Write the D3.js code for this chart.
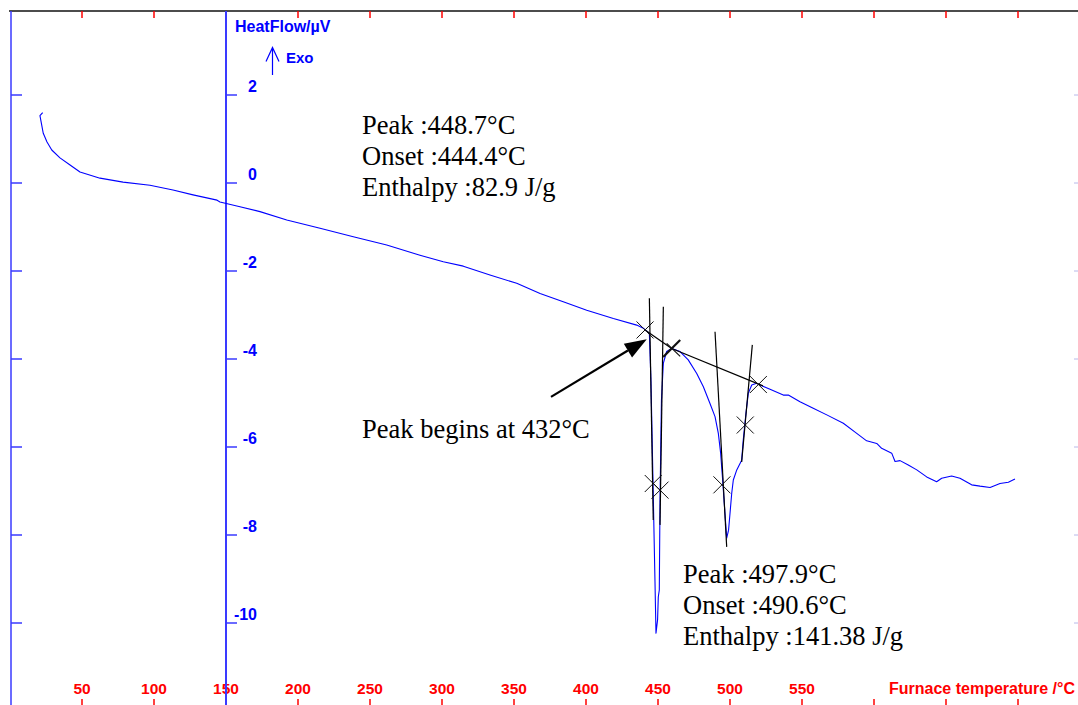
<!DOCTYPE html>
<html>
<head>
<meta charset="utf-8">
<script src="https://cdn.jsdelivr.net/npm/d3@7/dist/d3.min.js"></script>
<style>
  html, body { margin: 0; padding: 0; background: #fff; }
  svg { display: block; }
</style>
</head>
<body>
<svg id="chart" width="1078" height="705"></svg>
<script>
// DSC trace: furnace temperature (°C) vs heat flow (µV)
const temperature = [22.7, 20.8, 23.1, 25.7, 29.0, 34.7, 41.7, 48.6, 62.5, 78.5, 97.2, 113.2, 127.1, 143.8,
  145.8, 159.7, 173.6, 192.2, 215.3, 238.4, 261.6, 284.7, 300.9, 314.8, 333.3, 351.9, 368.1, 384.2,
  400.5, 419.0, 435.2, 439.8, 444.0, 445.1, 446.5, 447.9, 448.6, 449.7, 450.2, 450.9, 451.4, 452.4,
  453.7, 456.0, 459.5, 465.3, 471.0, 476.9, 481.5, 486.1, 489.6, 491.9, 493.5, 494.9, 496.5, 497.7,
  499.0, 500.0, 501.2, 502.3, 504.7, 508.1, 509.2, 511.1, 512.7, 515.1, 518.5, 520.8, 527.8, 537.0,
  540.5, 548.6, 557.8, 567.2, 578.7, 588.0, 594.9, 601.9, 605.3, 612.3, 614.6, 618.1, 623.8, 629.7,
  636.6, 643.5, 647.0, 653.9, 659.7, 667.8, 673.6, 680.6, 687.5, 693.3, 697.9];
const heatFlow = [1.60, 1.53, 1.13, 0.93, 0.75, 0.57, 0.41, 0.25, 0.11, 0.02, -0.05, -0.16, -0.27, -0.39,
  -0.43, -0.54, -0.65, -0.84, -1.03, -1.22, -1.41, -1.64, -1.79, -1.89, -2.09, -2.28, -2.51, -2.70,
  -2.89, -3.08, -3.23, -3.30, -3.42, -4.48, -6.75, -9.05, -10.23, -9.93, -9.41, -9.25, -7.20, -4.93,
  -4.10, -3.83, -3.76, -3.83, -4.02, -4.33, -4.63, -5.01, -5.31, -5.69, -6.14, -6.75, -7.51, -8.07,
  -7.89, -7.51, -7.05, -6.75, -6.52, -6.30, -5.84, -5.23, -4.78, -4.59, -4.55, -4.59, -4.69, -4.82,
  -4.82, -4.97, -5.12, -5.27, -5.46, -5.69, -5.86, -5.92, -6.03, -6.14, -6.33, -6.31, -6.41, -6.52,
  -6.68, -6.79, -6.71, -6.66, -6.71, -6.86, -6.89, -6.92, -6.83, -6.80, -6.73];

// axis ticks
const xTicks = [50, 100, 150, 200, 250, 300, 350, 400, 450, 500, 550, 600, 650, 700];
const xTickLabels = ["50", "100", "150", "200", "250", "300", "350", "400", "450", "500", "550", "", "", ""];
const yTicks = [2, 0, -2, -4, -6, -8, -10];

// tangent / baseline construction lines [T1, v1, T2, v2]
const tangentLines = [
  [444.0, -2.62, 446.7, -7.66],
  [453.7, -2.81, 451.4, -7.77],
  [489.6, -3.38, 497.7, -8.27],
  [515.5, -3.68, 508.1, -6.34],
  [441.0, -3.34, 459.5, -3.76],
  [459.5, -3.76, 522.9, -4.61]
];
// intersection markers [T, v]
const markerT = [441.0, 519.7, 510.6, 446.7, 451.4, 494.4];
const markerV = [-3.34, -4.58, -5.50, -6.83, -6.98, -6.86];
// the heavier marker where the two baselines meet
const jointMarker = [459.5, -3.76];
// arrow pointing at the start of the first peak [T, v]
const arrowFrom = [375.7, -4.86];
const arrowTo = [442.2, -3.55];

// peak results
const peak1Text = ["Peak :448.7°C", "Onset :444.4°C", "Enthalpy :82.9 J/g"];
const peak2Text = ["Peak :497.9°C", "Onset :490.6°C", "Enthalpy :141.38 J/g"];
const arrowText = "Peak begins at 432°C";

const W = 1078, H = 705;
const svg = d3.select("#chart");

const x = d3.scaleLinear().domain([0, 700]).range([10, 1018]);
const y = d3.scaleLinear().domain([-10, 2]).range([623, 95]);

const frameTop = 11, leftX = 11;
const axisX = x(150);
const red = "#ff0000", blue = "#0000ff", axisBlue = "#3a3aff";
const sans = "Liberation Sans, Arial, sans-serif";

// top frame line
svg.append("line").attr("x1", 9).attr("x2", W).attr("y1", frameTop).attr("y2", frameTop)
  .attr("stroke", "#111").attr("stroke-width", 1.5);

// red temperature ticks, top and bottom
const xt = svg.append("g");
xTicks.forEach(t => {
  xt.append("line").attr("x1", x(t)).attr("x2", x(t)).attr("y1", frameTop).attr("y2", frameTop + 7)
    .attr("stroke", red).attr("stroke-width", 1.5);
  xt.append("line").attr("x1", x(t)).attr("x2", x(t)).attr("y1", H - 6).attr("y2", H)
    .attr("stroke", red).attr("stroke-width", 1.5);
});
svg.append("g").selectAll("text").data(xTicks.filter((t, i) => xTickLabels[i] !== ""))
  .join("text")
  .attr("x", d => x(d)).attr("y", 694)
  .attr("text-anchor", "middle")
  .attr("font-family", sans)
  .attr("font-weight", "bold").attr("font-size", 15.5)
  .attr("fill", red)
  .text((d) => xTickLabels[xTicks.indexOf(d)]);
svg.append("text").attr("x", 889).attr("y", 694)
  .attr("font-family", sans)
  .attr("font-weight", "bold").attr("font-size", 16)
  .attr("fill", red)
  .text("Furnace temperature /°C");

// left frame axis
svg.append("line").attr("x1", leftX).attr("x2", leftX).attr("y1", frameTop).attr("y2", H)
  .attr("stroke", axisBlue).attr("stroke-width", 1.5);
yTicks.forEach(v => {
  svg.append("line").attr("x1", leftX).attr("x2", leftX + 11).attr("y1", y(v)).attr("y2", y(v))
    .attr("stroke", axisBlue).attr("stroke-width", 1.5);
  // faint ticks on the right edge
  svg.append("line").attr("x1", W - 4).attr("x2", W).attr("y1", y(v)).attr("y2", y(v))
    .attr("stroke", "#b8b8e8").attr("stroke-width", 1);
});

// heat flow axis
svg.append("line").attr("x1", axisX).attr("x2", axisX).attr("y1", frameTop).attr("y2", H)
  .attr("stroke", axisBlue).attr("stroke-width", 2);
yTicks.forEach(v => {
  svg.append("line").attr("x1", axisX).attr("x2", axisX + 11).attr("y1", y(v)).attr("y2", y(v))
    .attr("stroke", axisBlue).attr("stroke-width", 1.5);
});
svg.append("g").selectAll("text").data(yTicks).join("text")
  .attr("x", axisX + 31).attr("y", d => y(d) - 3)
  .attr("text-anchor", "end")
  .attr("font-family", sans)
  .attr("font-weight", "bold").attr("font-size", 16)
  .attr("fill", blue)
  .text(d => d);

svg.append("text").attr("x", 235).attr("y", 31.5)
  .attr("font-family", sans)
  .attr("font-weight", "bold").attr("font-size", 16)
  .attr("fill", blue)
  .text("HeatFlow/µV");
svg.append("text").attr("x", 286).attr("y", 63)
  .attr("font-family", sans)
  .attr("font-weight", "bold").attr("font-size", 15)
  .attr("fill", blue)
  .text("Exo");
svg.append("path").attr("d", "M272.5,75 L272.5,47.5 M266,61.5 L272.5,47.5 L279,61.5")
  .attr("fill", "none").attr("stroke", blue).attr("stroke-width", 1.2);

// DSC curve
const pts = temperature.map((t, i) => [t, heatFlow[i]]);
svg.append("path").datum(pts)
  .attr("d", d3.line().x(d => x(d[0])).y(d => y(d[1])))
  .attr("fill", "none").attr("stroke", blue).attr("stroke-width", 1.1)
  .attr("stroke-linejoin", "round");

// construction lines
svg.append("g").selectAll("line").data(tangentLines).join("line")
  .attr("x1", d => x(d[0])).attr("y1", d => y(d[1]))
  .attr("x2", d => x(d[2])).attr("y2", d => y(d[3]))
  .attr("stroke", "#000").attr("stroke-width", 1.2);

// X markers
const arm = 8.5;
markerT.forEach((t, i) => {
  const cx = x(t), cy = y(markerV[i]);
  svg.append("path")
    .attr("d", `M${cx - arm},${cy - arm}L${cx + arm},${cy + arm}M${cx - arm},${cy + arm}L${cx + arm},${cy - arm}`)
    .attr("stroke", "#111").attr("stroke-width", 1);
});
{
  const cx = x(jointMarker[0]), cy = y(jointMarker[1]);
  svg.append("path").attr("d", `M${cx - 8.5},${cy + 8.5}L${cx + 8.5},${cy - 8.5}`)
    .attr("stroke", "#111").attr("stroke-width", 2.2);
  svg.append("path").attr("d", `M${cx - 5},${cy - 5}L${cx + 8.5},${cy + 8}`)
    .attr("stroke", "#111").attr("stroke-width", 1.2);
}

// arrow
{
  const x1 = x(arrowFrom[0]), y1 = y(arrowFrom[1]);
  const x2 = x(arrowTo[0]), y2 = y(arrowTo[1]);
  const ang = Math.atan2(y2 - y1, x2 - x1);
  const len = 22, half = 8;
  const bx = x2 - len * Math.cos(ang), by = y2 - len * Math.sin(ang);
  svg.append("line").attr("x1", x1).attr("y1", y1).attr("x2", bx).attr("y2", by)
    .attr("stroke", "#000").attr("stroke-width", 2.2);
  const px = -Math.sin(ang) * half, py = Math.cos(ang) * half;
  svg.append("path")
    .attr("d", `M${x2},${y2}L${bx + px},${by + py}L${bx - px},${by - py}Z`)
    .attr("fill", "#000");
}

// annotation text
const serif = "Liberation Serif, 'Times New Roman', serif";
function block(lines, x0, y0) {
  lines.forEach((s, i) => {
    svg.append("text").attr("x", x0).attr("y", y0 + i * 31)
      .attr("font-family", serif).attr("font-size", 26.5).attr("fill", "#000")
      .text(s);
  });
}
block(peak1Text, 362, 134);
block([arrowText], 362, 438);
block(peak2Text, 683, 583);
</script>
</body>
</html>
